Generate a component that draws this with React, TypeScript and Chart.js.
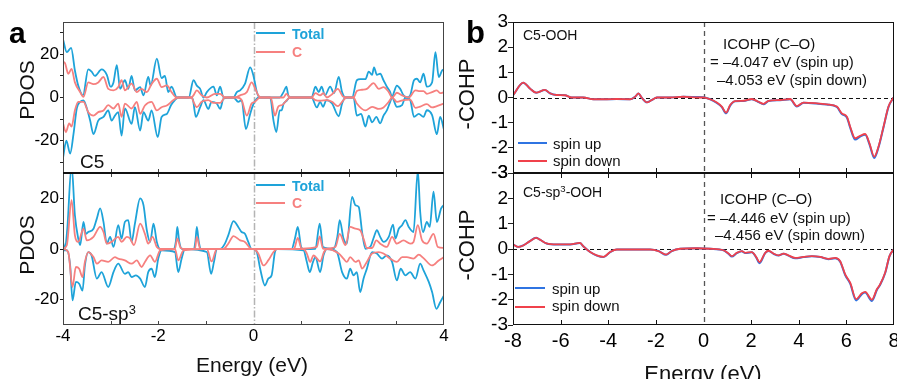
import React, { useEffect, useRef } from 'react';
import { Chart, registerables } from 'chart.js';

Chart.register(...registerables);

type Pt = [number, number];

// ---------- Panel a (top): C5 PDOS ----------
const c5TotalUp: Pt[] = [[-4.0,27],[-3.92,21],[-3.83,23],[-3.75,12.5],[-3.68,5.5],[-3.58,1],[-3.47,13],[-3.4,12],[-3.33,10],[-3.19,13],[-3.08,10.5],[-3.0,5],[-2.94,7],[-2.87,15],[-2.8,4],[-2.7,8],[-2.63,4],[-2.56,10],[-2.49,3.3],[-2.38,4.8],[-2.31,1],[-2.21,9.5],[-2.16,5.6],[-2.03,18],[-1.93,9],[-1.86,10],[-1.79,2.5],[-1.72,5],[-1.61,0],[-1.36,0],[-1.26,8],[-1.19,5.5],[-1.12,4],[-1.05,0],[-0.98,2.5],[-0.84,5],[-0.77,1],[-0.7,5],[-0.63,0],[-0.42,0],[-0.35,2.5],[-0.28,3.3],[-0.18,6.3],[-0.07,14],[0.0,10],[0.07,2.5],[0.13,0],[0.55,0],[0.63,2.5],[0.69,5],[0.73,1],[0.77,0],[1.22,0],[1.3,5],[1.37,2.5],[1.43,5],[1.5,1],[1.61,5],[1.69,2],[1.79,9.5],[1.86,2.5],[1.93,0],[2.07,0],[2.17,8],[2.24,8.5],[2.35,8.5],[2.42,12],[2.49,10.5],[2.53,14],[2.59,10.5],[2.66,11],[2.73,8],[2.8,5],[2.87,2.5],[2.91,0],[2.95,2.5],[3.01,5.5],[3.08,4],[3.15,1],[3.22,0],[3.29,1],[3.37,8],[3.43,8.7],[3.5,7],[3.57,11],[3.64,5],[3.75,7],[3.82,21],[3.89,9.5],[3.96,12.5],[4.0,13]];
const c5TotalDown: Pt[] = [[-4.0,-28],[-3.93,-20],[-3.85,-26],[-3.78,-17],[-3.71,-5],[-3.64,-2],[-3.57,-1.3],[-3.5,-5],[-3.43,-10.7],[-3.36,-17],[-3.26,-10.7],[-3.15,-9],[-3.05,-6],[-2.98,-10.7],[-2.91,-8.4],[-2.84,-6.8],[-2.77,-17.7],[-2.7,-5],[-2.56,-12.2],[-2.49,-4.5],[-2.38,-15.3],[-2.31,-6.8],[-2.21,-10.7],[-2.14,-6],[-2.01,-18.4],[-1.93,-9],[-1.82,-7.6],[-1.73,-3.5],[-1.65,-1.2],[-1.58,0],[-1.3,0],[-1.27,-1.2],[-1.21,-9],[-1.12,-4.5],[-1.05,-1.2],[-0.95,-5.3],[-0.88,-2],[-0.77,-2.8],[-0.7,-5.3],[-0.63,-0.5],[-0.42,0],[-0.32,-2],[-0.25,-1.2],[-0.16,-14.6],[-0.07,-7.6],[0.0,-3],[0.07,-0.5],[0.13,0],[0.35,0],[0.42,-10.7],[0.48,-16],[0.55,-6],[0.59,-6],[0.63,-3],[0.7,-1.4],[0.76,0],[1.22,0],[1.33,-4.6],[1.4,-2],[1.46,-4.3],[1.53,-1.2],[1.65,-2.8],[1.79,-8.7],[1.86,-2.8],[1.93,0],[2.1,0],[2.17,-8.4],[2.26,-7.6],[2.35,-13.5],[2.42,-8.4],[2.49,-11.5],[2.58,-9],[2.66,-12],[2.73,-8.4],[2.8,-6],[2.87,-2],[2.91,0],[3.01,-4.3],[3.12,-3.5],[3.19,0],[3.29,-1.2],[3.37,-9],[3.47,-7.6],[3.57,-9],[3.64,-5.9],[3.75,-8.2],[3.85,-17],[3.92,-9],[4.0,-15]];
const c5CUp: Pt[] = [[-4.0,16.4],[-3.96,16],[-3.89,11],[-3.82,13.3],[-3.75,7],[-3.64,2.5],[-3.57,0.3],[-3.47,7],[-3.36,6.2],[-3.26,7],[-3.15,9.5],[-3.05,4],[-2.94,3.3],[-2.84,4.8],[-2.77,8],[-2.7,3.3],[-2.56,6.4],[-2.45,2.5],[-2.35,4],[-2.24,2.5],[-2.14,6.2],[-2.03,8.7],[-1.93,4.8],[-1.82,5.6],[-1.72,2.5],[-1.61,0],[-1.3,0],[-1.26,1],[-1.19,3.3],[-1.09,1],[-0.98,0],[-0.81,1.7],[-0.7,1.7],[-0.6,0],[-0.39,0],[-0.28,1],[-0.14,2.5],[-0.04,7],[0.03,4.5],[0.1,1],[0.15,0],[0.63,0],[0.69,1.7],[0.77,0],[1.22,0],[1.3,2],[1.4,1],[1.47,2],[1.54,0],[1.65,1.5],[1.77,4],[1.89,0.3],[2.1,0],[2.17,3],[2.28,3.6],[2.38,4],[2.52,6.7],[2.63,4],[2.73,4.8],[2.84,2.5],[2.91,0],[3.01,2.2],[3.12,1],[3.26,0],[3.4,3.3],[3.47,3],[3.57,3],[3.64,1.7],[3.75,2.5],[3.85,3.3],[3.92,2],[4.0,2.5]];
const c5CDown: Pt[] = [[-4.0,-12],[-3.94,-16],[-3.87,-12],[-3.82,-13.5],[-3.75,-6],[-3.68,-2],[-3.57,-2],[-3.47,-6.8],[-3.36,-8.4],[-3.26,-6.8],[-3.15,-6],[-3.05,-3.5],[-2.94,-5.1],[-2.84,-2.8],[-2.77,-9],[-2.7,-2.8],[-2.56,-5.1],[-2.45,-2],[-2.38,-7.6],[-2.28,-3.7],[-2.14,-2],[-2.03,-6],[-1.93,-4.5],[-1.82,-3.7],[-1.68,-1.2],[-1.58,0],[-1.3,0],[-1.26,-2],[-1.19,-4.5],[-1.09,-2],[-0.95,-1.2],[-0.84,-2.5],[-0.7,-2.5],[-0.6,0],[-0.35,0],[-0.25,-1.2],[-0.14,-8.4],[-0.04,-2.8],[0.03,-2],[0.1,-0.5],[0.15,0],[0.35,0],[0.38,-1.2],[0.45,-8.4],[0.52,-4.2],[0.6,-3.5],[0.7,-1.2],[0.77,0],[1.22,0],[1.3,-1.2],[1.4,-1.5],[1.54,-1.2],[1.65,-2],[1.77,-4],[1.89,-1.2],[1.96,0],[2.1,0],[2.17,-2.8],[2.35,-6],[2.49,-4.3],[2.63,-5.3],[2.73,-4.6],[2.84,-2],[2.91,0],[3.01,-2],[3.15,-1.2],[3.29,-1],[3.4,-4.8],[3.5,-4.2],[3.64,-3.1],[3.75,-4.6],[3.85,-4],[4.0,-2.8]];

// ---------- Panel a (bottom): C5-sp3 PDOS ----------
const sp3TotalUp: Pt[] = [[-4.0,2.8],[-3.96,0.1],[-3.91,8],[-3.82,33],[-3.75,13.3],[-3.68,4.1],[-3.64,1.5],[-3.57,10.7],[-3.52,6],[-3.47,6.7],[-3.36,8],[-3.29,12],[-3.22,16],[-3.15,10.7],[-3.08,2.1],[-3.01,4.8],[-2.94,0.8],[-2.84,9.4],[-2.77,4.1],[-2.7,10.7],[-2.63,11.4],[-2.56,2.8],[-2.49,10],[-2.38,20],[-2.31,17.3],[-2.24,7.4],[-2.17,2.8],[-2.1,10],[-2.03,2.8],[-1.96,0],[-1.68,0],[-1.63,3],[-1.6,8.7],[-1.56,3],[-1.5,0],[-1.26,0],[-1.22,3],[-1.19,8.7],[-1.15,3],[-1.1,0],[-0.7,0],[-0.6,2.1],[-0.53,5.4],[-0.42,11],[-0.32,8.7],[-0.25,6.7],[-0.18,6],[-0.11,2.8],[-0.04,0],[0.8,0],[0.87,4.1],[0.93,8.7],[1.0,0.8],[1.05,0],[1.3,0.1],[1.39,10],[1.46,0.8],[1.68,0.1],[1.76,4.8],[1.81,11.4],[1.89,4.1],[1.96,2.1],[2.07,20.6],[2.14,17.3],[2.21,16.6],[2.28,6.7],[2.35,0.1],[2.45,0.8],[2.53,4.8],[2.59,7.4],[2.66,4.8],[2.73,2.8],[2.84,4.8],[2.93,9.6],[2.98,4.1],[3.05,8],[3.12,9.4],[3.19,11.4],[3.26,8.7],[3.36,6.7],[3.45,31],[3.5,14.7],[3.56,6.7],[3.64,10.7],[3.7,8.7],[3.78,22.6],[3.85,10.7],[3.94,16],[3.99,17.3]];
const sp3TotalDown: Pt[] = [[-4.0,-0.5],[-3.92,-0.5],[-3.85,-6.5],[-3.8,-20.3],[-3.73,-13],[-3.66,-13.7],[-3.59,-16.4],[-3.54,-6.5],[-3.47,-1.2],[-3.4,-2.5],[-3.29,-11.7],[-3.19,-9.1],[-3.05,-15],[-2.94,-9.1],[-2.84,-5.8],[-2.7,-9.8],[-2.63,-9.1],[-2.56,-11.1],[-2.47,-10.4],[-2.38,-11.7],[-2.28,-15],[-2.21,-9.1],[-2.14,-7.8],[-2.07,-11.1],[-2.0,-3.8],[-1.93,-0.5],[-1.65,-1.2],[-1.58,-9.1],[-1.51,-3.8],[-1.44,0],[-0.98,-1.2],[-0.89,-9.8],[-0.83,-5.1],[-0.77,0],[0.0,0],[0.07,-1.2],[0.14,-7.8],[0.24,-14.4],[0.31,-11.7],[0.38,-10.4],[0.45,-1.2],[0.49,0],[1.05,-0.5],[1.12,-5.1],[1.18,-9.1],[1.25,-5.1],[1.3,-3.2],[1.4,-9.1],[1.47,-2.5],[1.54,0],[1.75,-1.2],[1.86,-9.1],[1.96,-11.7],[2.03,-7.8],[2.1,-10.4],[2.17,-9.1],[2.24,-17],[2.31,-11.7],[2.38,-7.8],[2.49,-1.2],[2.59,-1.8],[2.7,-3.8],[2.8,-2.5],[2.91,-5.1],[3.01,-12.4],[3.09,-7.8],[3.19,-10.4],[3.29,-9.1],[3.4,-11.7],[3.5,-5.8],[3.57,-8.4],[3.68,-13],[3.75,-17],[3.84,-23.6],[3.92,-21],[4.0,-18.3]];
const sp3CUp: Pt[] = [[-4.0,0.1],[-3.92,1.5],[-3.82,19.3],[-3.75,5.4],[-3.68,2.8],[-3.57,8],[-3.5,3.4],[-3.36,4.8],[-3.22,8.7],[-3.15,6.7],[-3.08,2.1],[-2.98,2.8],[-2.84,4.8],[-2.77,2.8],[-2.66,4.8],[-2.59,4.1],[-2.51,1.5],[-2.38,10],[-2.28,6],[-2.21,2.1],[-2.12,4.8],[-2.03,0.8],[-1.96,0],[-1.65,0],[-1.6,4.2],[-1.53,0.4],[-1.47,0],[-1.23,0],[-1.19,4.8],[-1.12,0.1],[-0.63,0],[-0.53,2.1],[-0.42,5.1],[-0.28,3.4],[-0.18,2.8],[-0.04,0],[0.85,0],[0.87,0.8],[0.93,4.4],[1.01,0.1],[1.33,0.8],[1.39,5],[1.46,0.1],[1.72,0.8],[1.81,6],[1.93,1.5],[2.03,8.7],[2.14,8],[2.24,7.4],[2.31,4.1],[2.38,0.4],[2.49,0.4],[2.58,3.4],[2.66,2.1],[2.8,0.8],[2.91,4.8],[3.01,2.1],[3.15,3.4],[3.29,2.1],[3.36,2.8],[3.45,9.4],[3.54,3.4],[3.64,2.1],[3.78,6],[3.87,0.8],[4.0,0.4]];
const sp3CDown: Pt[] = [[-4.0,0],[-3.89,-1.2],[-3.8,-15],[-3.73,-7.1],[-3.66,-7.8],[-3.59,-11.1],[-3.54,-5.1],[-3.47,-1.2],[-3.36,-3.2],[-3.29,-5.8],[-3.19,-4.5],[-3.05,-5.1],[-2.91,-3.2],[-2.84,-3.8],[-2.7,-4.5],[-2.56,-5.8],[-2.45,-4.5],[-2.35,-7.1],[-2.28,-5.1],[-2.17,-2.5],[-2.07,-5.1],[-1.96,-0.5],[-1.65,0],[-1.58,-4.5],[-1.47,-0.5],[-0.98,0],[-0.88,-4.9],[-0.77,0],[0.0,0],[0.1,-1.8],[0.21,-6.5],[0.31,-4.5],[0.42,-1.2],[0.49,0],[1.05,0],[1.12,-1.8],[1.19,-5.1],[1.26,-2.5],[1.4,-4.9],[1.48,-1.2],[1.54,0],[1.79,-1.8],[1.89,-3.8],[1.96,-5.1],[2.03,-3.2],[2.14,-5.1],[2.21,-4.5],[2.28,-7.7],[2.38,-5.1],[2.49,-1.8],[2.63,-1.2],[2.73,-1.8],[2.87,-3.8],[3.01,-5.1],[3.12,-3.2],[3.22,-3.2],[3.36,-3.8],[3.47,-2.2],[3.57,-3.6],[3.75,-6.5],[3.89,-4.5],[4.0,-3.2]];

// ---------- Panel b: -COHP ----------
const cohpC5SpinDown: Pt[] = [[-7.99,0.1],[-7.57,0.59],[-7.29,0.36],[-7.03,0.19],[-6.66,0.3],[-6.45,0.17],[-6.17,0.1],[-5.82,0.09],[-5.54,0],[-5.05,0],[-4.62,-0.07],[-4.06,-0.07],[-3.65,-0.06],[-3.08,-0.07],[-2.87,0.03],[-2.73,0.16],[-2.6,0],[-2.38,-0.19],[-2.17,-0.1],[-1.96,0],[-1.4,0],[-0.84,0.03],[-0.28,0],[0,0],[0.28,-0.07],[0.56,-0.2],[0.77,-0.36],[0.95,-0.6],[1.12,-0.3],[1.33,-0.14],[1.68,-0.13],[2.03,-0.06],[2.31,-0.17],[2.52,-0.25],[2.73,-0.13],[3.22,-0.1],[3.64,-0.06],[3.92,-0.34],[4.2,-0.2],[4.76,-0.23],[5.18,-0.27],[5.6,-0.36],[5.81,-0.63],[6.02,-0.76],[6.16,-1.16],[6.37,-1.62],[6.58,-1.52],[6.79,-1.45],[6.97,-1.82],[7.17,-2.35],[7.35,-1.95],[7.56,-1.16],[7.77,-0.36],[7.98,0]];
const cohpC5SpinUp: Pt[] = [[-7.99,0.1],[-7.57,0.59],[-7.29,0.36],[-7.03,0.19],[-6.66,0.3],[-6.45,0.17],[-6.17,0.1],[-5.82,0.09],[-5.54,0],[-5.05,0],[-4.62,-0.07],[-4.06,-0.07],[-3.65,-0.06],[-3.08,-0.07],[-2.87,0.03],[-2.73,0.16],[-2.6,0],[-2.38,-0.19],[-2.17,-0.1],[-1.96,0],[-1.4,0],[-0.84,0.03],[-0.28,0.02],[0,0.01],[0.28,-0.07],[0.56,-0.22],[0.77,-0.38],[0.95,-0.63],[1.12,-0.32],[1.33,-0.15],[1.68,-0.14],[2.03,-0.07],[2.31,-0.18],[2.52,-0.27],[2.73,-0.14],[3.22,-0.11],[3.64,-0.07],[3.92,-0.36],[4.2,-0.21],[4.76,-0.24],[5.18,-0.28],[5.6,-0.38],[5.81,-0.66],[6.02,-0.79],[6.16,-1.2],[6.37,-1.67],[6.58,-1.55],[6.79,-1.48],[6.97,-1.86],[7.17,-2.4],[7.35,-1.98],[7.56,-1.18],[7.77,-0.37],[7.98,0]];
const cohpSp3SpinDown: Pt[] = [[-7.99,0.18],[-7.78,0.08],[-7.57,0.14],[-7.29,0.31],[-7.03,0.44],[-6.87,0.37],[-6.59,0.22],[-6.17,0.18],[-5.6,0.18],[-5.19,0.24],[-5.05,0.11],[-4.76,-0.12],[-4.48,-0.25],[-4.2,-0.31],[-3.92,-0.12],[-3.64,-0.02],[-3.08,-0.02],[-2.24,-0.02],[-1.89,-0.08],[-1.57,-0.22],[-1.33,-0.08],[-0.98,0.01],[-0.28,0.03],[0.28,0.01],[0.84,-0.05],[1.05,-0.18],[1.19,-0.28],[1.4,-0.15],[1.61,-0.08],[1.75,-0.15],[2.03,-0.12],[2.21,-0.31],[2.35,-0.52],[2.59,-0.15],[2.73,-0.07],[2.94,-0.18],[3.15,-0.25],[3.36,-0.18],[3.57,-0.25],[3.85,-0.35],[4.2,-0.31],[4.55,-0.28],[4.9,-0.31],[5.25,-0.39],[5.53,-0.35],[5.74,-0.48],[5.95,-1.0],[6.16,-1.33],[6.41,-1.98],[6.65,-1.75],[6.79,-1.69],[7.07,-2.0],[7.28,-1.59],[7.42,-1.39],[7.63,-0.93],[7.81,-0.28],[7.98,-0.02]];
const cohpSp3SpinUp: Pt[] = [[-7.99,0.18],[-7.78,0.08],[-7.57,0.14],[-7.29,0.31],[-7.03,0.44],[-6.87,0.37],[-6.59,0.22],[-6.17,0.18],[-5.6,0.18],[-5.19,0.24],[-5.05,0.11],[-4.76,-0.12],[-4.48,-0.26],[-4.2,-0.32],[-3.92,-0.12],[-3.64,-0.02],[-3.08,-0.02],[-2.24,-0.02],[-1.89,-0.08],[-1.57,-0.23],[-1.33,-0.08],[-0.98,0.01],[-0.28,0.03],[0.28,0.01],[0.84,-0.05],[1.05,-0.19],[1.19,-0.3],[1.4,-0.16],[1.61,-0.09],[1.75,-0.16],[2.03,-0.13],[2.21,-0.33],[2.35,-0.56],[2.59,-0.16],[2.73,-0.08],[2.94,-0.19],[3.15,-0.26],[3.36,-0.19],[3.57,-0.26],[3.85,-0.37],[4.2,-0.32],[4.55,-0.29],[4.9,-0.32],[5.25,-0.4],[5.53,-0.37],[5.74,-0.5],[5.95,-1.03],[6.16,-1.37],[6.41,-2.03],[6.65,-1.78],[6.79,-1.72],[7.07,-2.05],[7.28,-1.62],[7.42,-1.41],[7.63,-0.95],[7.81,-0.29],[7.98,-0.02]];

// ---------- Tick values ----------
const pdosYTicksTop = [-30, -20, -10, 0, 10, 20, 30];
const pdosYTicksBottom = [-20, -10, 0, 10, 20];
const pdosYLabels = [-20, 0, 20];
const pdosXLabels = [-4, -2, 0, 2, 4];
const pdosXMarks = [-3, -2, -1, 1, 2, 3];
const cohpYTicks = [-3, -2, -1, 0, 1, 2, 3];
const cohpXLabels = [-8, -6, -4, -2, 0, 2, 4, 6, 8];
const cohpXMarks = [-6, -4, -2, 2, 4, 6];

const FONT = "'Liberation Sans', Arial, Helvetica, sans-serif";
const PDOS_BLUE = '#1ea3d9';
const PDOS_PINK = '#f6807f';
const COHP_BLUE = '#2f74e2';
const COHP_RED = '#f0414b';

const toXY = (arr: Pt[]) => arr.map(([x, y]) => ({ x, y }));

type FrameOpts = {
  color: string;
  marks: number[];
  markLen: number;
  markTop: boolean;
  markBottom: boolean;
  sepTop: boolean;
  sepBottom: boolean;
  vline: { color: string; width: number; dash: number[] };
  hline?: { color: string; width: number; dash: number[] };
};

function makeFrame(o: FrameOpts) {
  return {
    id: 'frame',
    beforeDatasetsDraw(chart: any) {
      const { ctx, chartArea: a, scales } = chart;
      ctx.save();
      ctx.beginPath();
      ctx.rect(a.left, a.top, a.right - a.left, a.bottom - a.top);
      ctx.clip();
      const px = Math.round(scales.x.getPixelForValue(0)) + 0.5;
      ctx.strokeStyle = o.vline.color;
      ctx.lineWidth = o.vline.width;
      ctx.setLineDash(o.vline.dash);
      ctx.beginPath();
      ctx.moveTo(px, a.top);
      ctx.lineTo(px, a.bottom);
      ctx.stroke();
      if (o.hline) {
        const py = Math.round(scales.y.getPixelForValue(0)) + 0.5;
        ctx.strokeStyle = o.hline.color;
        ctx.lineWidth = o.hline.width;
        ctx.setLineDash(o.hline.dash);
        ctx.beginPath();
        ctx.moveTo(a.left, py);
        ctx.lineTo(a.right, py);
        ctx.stroke();
      }
      ctx.restore();
    },
    afterDatasetsDraw(chart: any) {
      const { ctx, chartArea: a, scales } = chart;
      ctx.save();
      ctx.setLineDash([]);
      ctx.strokeStyle = o.color;
      ctx.lineWidth = 1;
      const L = Math.round(a.left) + 0.5;
      const R = Math.round(a.right) - 0.5;
      const T = Math.round(a.top) + 0.5;
      const B = Math.round(a.bottom) - 0.5;
      ctx.strokeRect(L, T, R - L, B - T);
      ctx.beginPath();
      for (const v of o.marks) {
        const px = Math.round(scales.x.getPixelForValue(v)) + 0.5;
        if (o.markBottom) { ctx.moveTo(px, a.bottom); ctx.lineTo(px, a.bottom - o.markLen); }
        if (o.markTop) { ctx.moveTo(px, a.top); ctx.lineTo(px, a.top + o.markLen); }
      }
      ctx.stroke();
      ctx.strokeStyle = '#111';
      ctx.lineWidth = 2;
      ctx.beginPath();
      if (o.sepBottom) { ctx.moveTo(a.left, a.bottom); ctx.lineTo(a.right, a.bottom); }
      if (o.sepTop) { ctx.moveTo(a.left, a.top); ctx.lineTo(a.right, a.top); }
      ctx.stroke();
      ctx.restore();
    },
  };
}

type Spec = {
  left: number; top: number; width: number; height: number;
  pad: { left: number; right: number; top: number; bottom: number };
  xMin: number; xMax: number; yMin: number; yMax: number;
  yTicks: number[]; yLabels: number[] | null; yFont: number; yTickLen: number; yPad: number;
  xLabels: number[] | null; xFont: number; xPad: number; xHeight: number;
  datasets: any[];
  frame: FrameOpts;
};

function buildConfig(s: Spec): any {
  const showX = !!s.xLabels;
  return {
    type: 'line',
    data: { datasets: s.datasets },
    options: {
      responsive: false,
      animation: false,
      events: [],
      layout: { padding: s.pad },
      plugins: { legend: { display: false }, tooltip: { enabled: false } },
      scales: {
        x: {
          type: 'linear',
          min: s.xMin,
          max: s.xMax,
          display: showX,
          afterBuildTicks: (sc: any) => { if (s.xLabels) sc.ticks = s.xLabels.map((v) => ({ value: v })); },
          afterFit: (sc: any) => { sc.height = s.xHeight; },
          grid: { display: false, drawTicks: false },
          border: { display: false },
          ticks: {
            font: { family: FONT, size: s.xFont },
            color: '#000',
            padding: s.xPad,
            maxRotation: 0,
            autoSkip: false,
            callback: (v: any) => String(v),
          },
        },
        y: {
          type: 'linear',
          min: s.yMin,
          max: s.yMax,
          afterBuildTicks: (sc: any) => { sc.ticks = s.yTicks.map((v) => ({ value: v })); },
          afterFit: (sc: any) => { sc.width = 63; },
          grid: { display: true, drawOnChartArea: false, drawTicks: true, tickLength: s.yTickLen, color: '#222', lineWidth: 1 },
          border: { display: false },
          ticks: {
            font: { family: FONT, size: s.yFont },
            color: '#000',
            padding: s.yPad,
            autoSkip: false,
            callback: (v: any) => (s.yLabels === null || s.yLabels.includes(v) ? String(v) : ''),
          },
        },
      },
    },
    plugins: [makeFrame(s.frame)],
  };
}

const line = (arr: Pt[], color: string, order: number, width = 1.8) => ({
  data: toXY(arr),
  borderColor: color,
  borderWidth: width,
  pointRadius: 0,
  fill: false,
  cubicInterpolationMode: 'monotone',
  order,
});

const pdosV = { color: '#b4b4b4', width: 1.5, dash: [7, 2, 1.5, 2] };
const cohpV = { color: '#555', width: 1.3, dash: [5, 4] };
const cohpH = { color: '#111', width: 1.2, dash: [4, 3] };

const specs: Spec[] = [
  {
    left: 0, top: 0, width: 450, height: 190,
    pad: { left: 0, right: 6, top: 22, bottom: 17 },
    xMin: -4, xMax: 4, yMin: -35, yMax: 35,
    yTicks: pdosYTicksTop, yLabels: pdosYLabels, yFont: 17, yTickLen: 3, yPad: 1,
    xLabels: null, xFont: 17, xPad: 0, xHeight: 0,
    datasets: [line(c5TotalUp, PDOS_BLUE, 2), line(c5TotalDown, PDOS_BLUE, 2), line(c5CUp, PDOS_PINK, 1), line(c5CDown, PDOS_PINK, 1)],
    frame: { color: '#444', marks: pdosXMarks, markLen: 4, markTop: false, markBottom: true, sepTop: false, sepBottom: true, vline: pdosV },
  },
  {
    left: 0, top: 160, width: 450, height: 219,
    pad: { left: 0, right: 6, top: 13, bottom: 0 },
    xMin: -4, xMax: 4, yMin: -30, yMax: 30,
    yTicks: pdosYTicksBottom, yLabels: pdosYLabels, yFont: 17, yTickLen: 3, yPad: 1,
    xLabels: pdosXLabels, xFont: 17, xPad: 1, xHeight: 54,
    datasets: [line(sp3TotalUp, PDOS_BLUE, 2), line(sp3TotalDown, PDOS_BLUE, 2), line(sp3CUp, PDOS_PINK, 1), line(sp3CDown, PDOS_PINK, 1)],
    frame: { color: '#444', marks: pdosXMarks, markLen: 4, markTop: true, markBottom: true, sepTop: true, sepBottom: false, vline: pdosV },
  },
  {
    left: 450, top: 0, width: 460, height: 190,
    pad: { left: 0, right: 16, top: 22, bottom: 17 },
    xMin: -8, xMax: 8, yMin: -3, yMax: 3,
    yTicks: cohpYTicks, yLabels: null, yFont: 19, yTickLen: 5, yPad: 0,
    xLabels: null, xFont: 19, xPad: 5, xHeight: 0,
    datasets: [line(cohpC5SpinUp, COHP_BLUE, 2, 2), line(cohpC5SpinDown, COHP_RED, 1, 1.8)],
    frame: { color: '#111', marks: cohpXMarks, markLen: 5, markTop: false, markBottom: true, sepTop: false, sepBottom: true, vline: cohpV, hline: cohpH },
  },
  {
    left: 450, top: 160, width: 460, height: 219,
    pad: { left: 0, right: 16, top: 13, bottom: 0 },
    xMin: -8, xMax: 8, yMin: -3, yMax: 3,
    yTicks: cohpYTicks, yLabels: null, yFont: 19, yTickLen: 5, yPad: 0,
    xLabels: cohpXLabels, xFont: 20, xPad: 4, xHeight: 54,
    datasets: [line(cohpSp3SpinUp, COHP_BLUE, 2, 2), line(cohpSp3SpinDown, COHP_RED, 1, 1.8)],
    frame: { color: '#111', marks: cohpXMarks, markLen: 5, markTop: true, markBottom: true, sepTop: true, sepBottom: false, vline: cohpV, hline: cohpH },
  },
];

function ChartCanvas({ spec }: { spec: Spec }) {
  const ref = useRef<HTMLCanvasElement>(null);
  useEffect(() => {
    const chart = new Chart(ref.current as HTMLCanvasElement, buildConfig(spec));
    return () => chart.destroy();
  }, [spec]);
  return (
    <canvas
      ref={ref}
      width={spec.width}
      height={spec.height}
      style={{ position: 'absolute', left: spec.left, top: spec.top, width: spec.width, height: spec.height }}
    />
  );
}

// Text placed by its baseline (Liberation Sans metrics, line-height = 1em)
function Txt(props: { x: number; base: number; size: number; bold?: boolean; color?: string; center?: boolean; children: React.ReactNode }) {
  const { x, base, size, bold, color, center, children } = props;
  return (
    <div
      style={{
        position: 'absolute',
        left: x,
        top: base - 0.8465 * size,
        fontFamily: FONT,
        fontSize: size,
        lineHeight: `${size}px`,
        fontWeight: bold ? 700 : 400,
        color: color || '#111',
        whiteSpace: 'nowrap',
        transform: center ? 'translateX(-50%)' : undefined,
      }}
    >
      {children}
    </div>
  );
}

function VTitle(props: { cx: number; cy: number; size: number; children: React.ReactNode }) {
  return (
    <div
      style={{
        position: 'absolute',
        left: props.cx,
        top: props.cy,
        fontFamily: FONT,
        fontSize: props.size,
        lineHeight: `${props.size}px`,
        color: '#111',
        whiteSpace: 'nowrap',
        transform: 'translate(-50%, -50%) rotate(-90deg)',
      }}
    >
      {props.children}
    </div>
  );
}

function Seg(props: { x: number; y: number; w: number; color: string; h?: number }) {
  const h = props.h || 2;
  return <div style={{ position: 'absolute', left: props.x, top: props.y - h / 2, width: props.w, height: h, background: props.color }} />;
}

const Sup = (p: { children: React.ReactNode }) => (
  <span style={{ position: 'relative', top: '-0.45em', fontSize: '0.68em' }}>{p.children}</span>
);

export default function App() {
  return (
    <div style={{ position: 'fixed', left: 0, top: 0, width: 897, height: 379, overflow: 'hidden', background: '#fff' }}>
      {specs.map((s, i) => (
        <ChartCanvas key={i} spec={s} />
      ))}

      {/* panel letters */}
      <Txt x={9} base={43} size={30} bold color="#000">a</Txt>
      <Txt x={466} base={43} size={31} bold color="#000">b</Txt>

      {/* panel a titles */}
      <VTitle cx={26} cy={90} size={21}>PDOS</VTitle>
      <VTitle cx={26} cy={245} size={21}>PDOS</VTitle>
      <Txt x={252} base={372} size={21} center>Energy (eV)</Txt>
      <Txt x={80} base={168.5} size={19}>C5</Txt>
      <Txt x={78} base={320} size={19}>C5-sp<Sup>3</Sup></Txt>

      {/* panel a legends */}
      <Seg x={256} y={33} w={29} color={PDOS_BLUE} />
      <Txt x={292} base={38.5} size={14} bold color={PDOS_BLUE}>Total</Txt>
      <Seg x={256} y={51.5} w={29} color={PDOS_PINK} />
      <Txt x={292} base={56.5} size={14} bold color={PDOS_PINK}>C</Txt>
      <Seg x={256} y={185} w={29} color={PDOS_BLUE} />
      <Txt x={292} base={190.5} size={14} bold color={PDOS_BLUE}>Total</Txt>
      <Seg x={256} y={203} w={29} color={PDOS_PINK} />
      <Txt x={292} base={208} size={14} bold color={PDOS_PINK}>C</Txt>

      {/* panel b titles */}
      <VTitle cx={467} cy={94} size={22}>-COHP</VTitle>
      <VTitle cx={467} cy={245} size={22}>-COHP</VTitle>
      <Txt x={703} base={382} size={22} center>Energy (eV)</Txt>
      <Txt x={523} base={39.5} size={14}>C5-OOH</Txt>
      <Txt x={523} base={196.5} size={14}>C5-sp<Sup>3</Sup>-OOH</Txt>

      <Txt x={723} base={49} size={15}>ICOHP (C–O)</Txt>
      <Txt x={710} base={66.7} size={15}>= –4.047 eV (spin up)</Txt>
      <Txt x={717} base={84.7} size={15}>–4.053 eV (spin down)</Txt>
      <Txt x={720} base={204} size={15}>ICOHP (C–O)</Txt>
      <Txt x={707} base={222.3} size={15}>= –4.446 eV (spin up)</Txt>
      <Txt x={715} base={239.3} size={15}>–4.456 eV (spin down)</Txt>

      {/* panel b legends */}
      <Seg x={518} y={143.3} w={29} color={COHP_BLUE} />
      <Txt x={553} base={148.3} size={15}>spin up</Txt>
      <Seg x={518} y={161} w={29} color={COHP_RED} />
      <Txt x={553} base={165.7} size={15}>spin down</Txt>
      <Seg x={515} y={288.3} w={30} color={COHP_BLUE} />
      <Txt x={552} base={293.3} size={15}>spin up</Txt>
      <Seg x={515} y={306.7} w={30} color={COHP_RED} />
      <Txt x={552} base={311} size={15}>spin down</Txt>
    </div>
  );
}
